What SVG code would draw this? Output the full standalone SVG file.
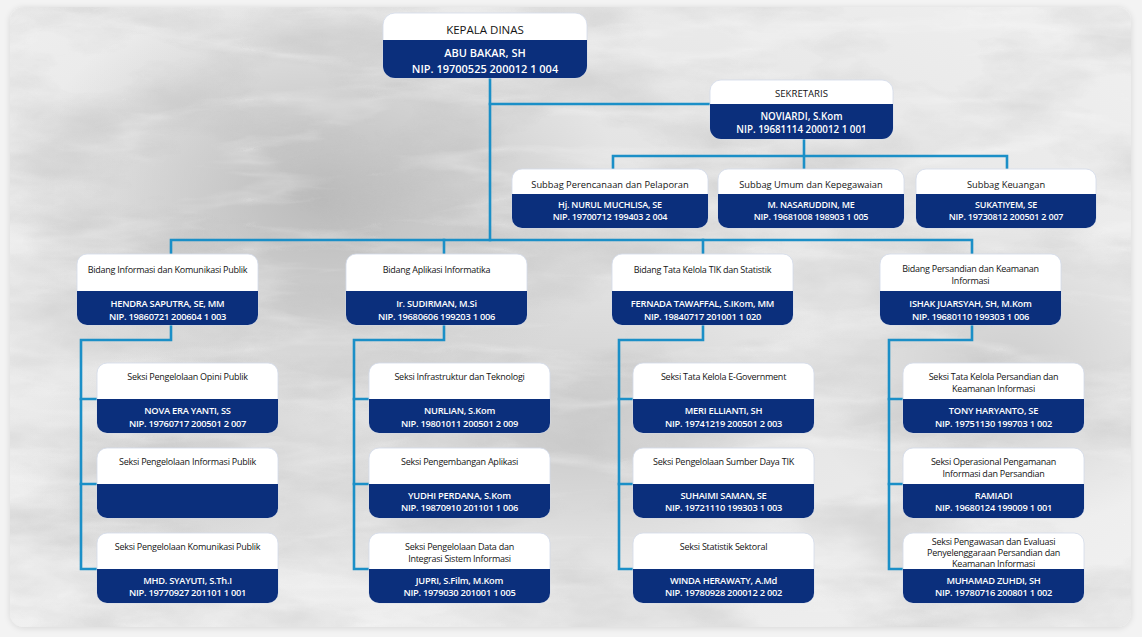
<svg xmlns="http://www.w3.org/2000/svg" xmlns:xlink="http://www.w3.org/1999/xlink" width="1142" height="637" viewBox="0 0 1142 637">
  <style>
    .hd { font-family: "Open Sans", "Liberation Sans", sans-serif; font-size: 9px; letter-spacing: -0.25px; fill: #141414; text-anchor: middle; dominant-baseline: central; }
    .nm { font-family: "Open Sans", "Liberation Sans", sans-serif; font-size: 9.3px; letter-spacing: -0.25px; font-weight: 600; fill: #ffffff; text-anchor: middle; dominant-baseline: central; }
    .hd-l { font-size: 11.5px; letter-spacing: 0; }
    .nm-l { font-size: 11px; letter-spacing: 0; }
    .hd-m { font-size: 9.6px; letter-spacing: 0; }
    .nm-m { font-size: 9.8px; letter-spacing: 0; }
    .hd-s { font-size: 9.3px; letter-spacing: 0; }
    .nm-s { font-size: 9px; letter-spacing: -0.2px; }
    .wire { fill: none; stroke: #1b8fc7; stroke-width: 2.6; stroke-linecap: square; stroke-linejoin: miter; }
    .face { fill: #ffffff; stroke: #d3dbea; stroke-width: 0.8; }
    .band { fill: #0b2f7c; }
  </style>
  <defs>
    <radialGradient id="cardBase" cx="0.45" cy="0.45" r="0.75">
      <stop offset="0" stop-color="#dedede"/>
      <stop offset="1" stop-color="#f1f1f1"/>
    </radialGradient>
    <radialGradient id="smudgeA" cx="0.5" cy="0.5" r="0.5">
      <stop offset="0" stop-color="#aaaaaa" stop-opacity="0.7"/>
      <stop offset="1" stop-color="#aaaaaa" stop-opacity="0"/>
    </radialGradient>
    <radialGradient id="smudgeB" cx="0.5" cy="0.5" r="0.5">
      <stop offset="0" stop-color="#b8b8b8" stop-opacity="0.55"/>
      <stop offset="1" stop-color="#b8b8b8" stop-opacity="0"/>
    </radialGradient>
    <filter id="grunge" x="0" y="0" width="100%" height="100%">
      <feTurbulence type="fractalNoise" baseFrequency="0.006 0.014" numOctaves="5" seed="7" result="n"/>
      <feColorMatrix in="n" type="matrix" values="0 0 0 0 0.5  0 0 0 0 0.5  0 0 0 0 0.5  2.8 0 0 0 -1.2"/>
    </filter>
    <filter id="veins" x="0" y="0" width="100%" height="100%">
      <feTurbulence type="turbulence" baseFrequency="0.004 0.02" numOctaves="4" seed="3" result="t"/>
      <feColorMatrix in="t" type="matrix" values="0 0 0 0 1  0 0 0 0 1  0 0 0 0 1  -3 0 0 0 0.9"/>
    </filter>
    <filter id="shadow" x="-5%" y="-5%" width="110%" height="110%">
      <feDropShadow dx="0" dy="1" stdDeviation="3" flood-color="#000" flood-opacity="0.12"/>
    </filter>
    <clipPath id="cardClip">
      <rect x="10" y="7" width="1121" height="620" rx="14"/>
    </clipPath>

    <!-- reusable card shapes: white heading area with a navy band below -->
    <g id="card-bidang">
      <rect class="face" width="181" height="71" rx="10"/>
      <path class="band" d="M0,37 h181 v24 a10,10 0 0 1 -10,10 h-161 a10,10 0 0 1 -10,-10 z"/>
    </g>
    <g id="card-seksi">
      <rect class="face" width="181" height="70" rx="10"/>
      <path class="band" d="M0,36 h181 v24 a10,10 0 0 1 -10,10 h-161 a10,10 0 0 1 -10,-10 z"/>
    </g>
  </defs>

  <!-- backdrop and textured panel -->
  <rect width="1142" height="637" fill="#f3f3f3"/>
  <rect x="10" y="7" width="1121" height="620" rx="14" fill="url(#cardBase)" filter="url(#shadow)"/>
  <g clip-path="url(#cardClip)">
    <ellipse cx="320" cy="200" rx="300" ry="220" fill="url(#smudgeA)"/>
    <ellipse cx="1010" cy="370" rx="210" ry="160" fill="url(#smudgeB)"/>
    <ellipse cx="580" cy="440" rx="240" ry="150" fill="url(#smudgeB)"/>
    <ellipse cx="200" cy="470" rx="180" ry="130" fill="url(#smudgeB)"/>
    <rect x="10" y="7" width="1121" height="620" filter="url(#grunge)" opacity="0.4"/>
    <rect x="10" y="7" width="1121" height="620" filter="url(#veins)" opacity="0.3"/>
  </g>

  <!-- connectors -->
  <g id="connectors">
    <path class="wire" d="M490,78 V240"/>
    <path class="wire" d="M490,104 H710"/>
    <path class="wire" d="M804,139 V169"/>
    <path class="wire" d="M613,169 V156 H1007 V169"/>
    <path class="wire" d="M171,254 V240 H972 V254"/>
    <path class="wire" d="M444,240 V254"/>
    <path class="wire" d="M703,240 V254"/>
    <path class="wire" d="M171,325 V340 H81 V569 H97"/>
    <path class="wire" d="M81,399 H97 M81,484 H97"/>
    <path class="wire" d="M444,325 V340 H354 V569 H369"/>
    <path class="wire" d="M354,399 H369 M354,484 H369"/>
    <path class="wire" d="M703,325 V340 H619 V569 H633"/>
    <path class="wire" d="M619,399 H633 M619,484 H633"/>
    <path class="wire" d="M972,325 V340 H889 V569 H903"/>
    <path class="wire" d="M889,399 H903 M889,484 H903"/>
  </g>

  <!-- head of office -->
  <g id="kepala-dinas">
    <rect class="face" x="383" y="13" width="204" height="65" rx="12"/>
    <path class="band" d="M383,40 h204 v26 a12,12 0 0 1 -12,12 h-180 a12,12 0 0 1 -12,-12 z"/>
    <text class="hd hd-l" x="485" y="29">KEPALA DINAS</text>
    <text class="nm nm-l" x="485" y="52">ABU BAKAR, SH</text>
    <text class="nm nm-l" x="485" y="68.5">NIP. 19700525 200012 1 004</text>
  </g>

  <!-- secretary -->
  <g id="sekretaris">
    <rect class="face" x="710" y="80" width="183" height="59" rx="11"/>
    <path class="band" d="M710,104 h183 v24 a11,11 0 0 1 -11,11 h-161 a11,11 0 0 1 -11,-11 z"/>
    <text class="hd hd-m" x="801.5" y="93.5">SEKRETARIS</text>
    <text class="nm nm-m" x="801.5" y="116">NOVIARDI, S.Kom</text>
    <text class="nm nm-m" x="801.5" y="129">NIP. 19681114 200012 1 001</text>
  </g>

  <!-- sub-sections under the secretary -->
  <g id="subbag-perencanaan">
    <rect class="face" x="512" y="169" width="196" height="59" rx="10"/>
    <path class="band" d="M512,194 h196 v24 a10,10 0 0 1 -10,10 h-176 a10,10 0 0 1 -10,-10 z"/>
    <text class="hd hd-s" x="610" y="184">Subbag Perencanaan dan Pelaporan</text>
    <text class="nm nm-s" x="610" y="204.5">Hj. NURUL MUCHLISA, SE</text>
    <text class="nm nm-s" x="610" y="216.5">NIP. 19700712 199403 2 004</text>
  </g>
  <g id="subbag-umum">
    <rect class="face" x="718" y="169" width="186" height="59" rx="10"/>
    <path class="band" d="M718,194 h186 v24 a10,10 0 0 1 -10,10 h-166 a10,10 0 0 1 -10,-10 z"/>
    <text class="hd hd-s" x="811" y="184">Subbag Umum dan Kepegawaian</text>
    <text class="nm nm-s" x="811" y="204.5">M. NASARUDDIN, ME</text>
    <text class="nm nm-s" x="811" y="216.5">NIP. 19681008 198903 1 005</text>
  </g>
  <g id="subbag-keuangan">
    <rect class="face" x="916" y="169" width="180" height="59" rx="10"/>
    <path class="band" d="M916,194 h180 v24 a10,10 0 0 1 -10,10 h-160 a10,10 0 0 1 -10,-10 z"/>
    <text class="hd hd-s" x="1006" y="184">Subbag Keuangan</text>
    <text class="nm nm-s" x="1006" y="204.5">SUKATIYEM, SE</text>
    <text class="nm nm-s" x="1006" y="216.5">NIP. 19730812 200501 2 007</text>
  </g>

  <!-- divisions -->
  <g id="bidang-ikp">
    <use xlink:href="#card-bidang" href="#card-bidang" x="77" y="254"/>
    <text class="hd" x="167.5" y="269">Bidang Informasi dan Komunikasi Publik</text>
    <text class="nm" x="167.5" y="303">HENDRA SAPUTRA, SE, MM</text>
    <text class="nm" x="167.5" y="316">NIP. 19860721 200604 1 003</text>
  </g>
  <g id="bidang-aptika">
    <use xlink:href="#card-bidang" href="#card-bidang" x="346" y="254"/>
    <text class="hd" x="436.5" y="269">Bidang Aplikasi Informatika</text>
    <text class="nm" x="436.5" y="303">Ir. SUDIRMAN, M.Si</text>
    <text class="nm" x="436.5" y="316">NIP. 19680606 199203 1 006</text>
  </g>
  <g id="bidang-tik">
    <use xlink:href="#card-bidang" href="#card-bidang" x="612" y="254"/>
    <text class="hd" x="702.5" y="269">Bidang Tata Kelola TIK dan Statistik</text>
    <text class="nm" x="702.5" y="303">FERNADA TAWAFFAL, S.IKom, MM</text>
    <text class="nm" x="702.5" y="316">NIP. 19840717 201001 1 020</text>
  </g>
  <g id="bidang-persandian">
    <use xlink:href="#card-bidang" href="#card-bidang" x="880" y="254"/>
    <text class="hd" x="970.5" y="268.5">Bidang Persandian dan Keamanan</text>
    <text class="hd" x="970.5" y="280.5">Informasi</text>
    <text class="nm" x="970.5" y="303">ISHAK JUARSYAH, SH, M.Kom</text>
    <text class="nm" x="970.5" y="316">NIP. 19680110 199303 1 006</text>
  </g>

  <!-- sections: column 1 -->
  <g id="seksi-opini">
    <use xlink:href="#card-seksi" href="#card-seksi" x="97" y="363"/>
    <text class="hd" x="187.5" y="376.5">Seksi Pengelolaan Opini Publik</text>
    <text class="nm" x="187.5" y="410.5">NOVA ERA YANTI, SS</text>
    <text class="nm" x="187.5" y="423">NIP. 19760717 200501 2 007</text>
  </g>
  <g id="seksi-informasi-publik">
    <use xlink:href="#card-seksi" href="#card-seksi" x="97" y="448"/>
    <text class="hd" x="187.5" y="461">Seksi Pengelolaan Informasi Publik</text>
  </g>
  <g id="seksi-komunikasi">
    <use xlink:href="#card-seksi" href="#card-seksi" x="97" y="533"/>
    <text class="hd" x="187.5" y="546">Seksi Pengelolaan Komunikasi Publik</text>
    <text class="nm" x="187.5" y="580">MHD. SYAYUTI, S.Th.I</text>
    <text class="nm" x="187.5" y="592.5">NIP. 19770927 201101 1 001</text>
  </g>

  <!-- sections: column 2 -->
  <g id="seksi-infrastruktur">
    <use xlink:href="#card-seksi" href="#card-seksi" x="369" y="363"/>
    <text class="hd" x="459.5" y="376.5">Seksi Infrastruktur dan Teknologi</text>
    <text class="nm" x="459.5" y="410.5">NURLIAN, S.Kom</text>
    <text class="nm" x="459.5" y="423">NIP. 19801011 200501 2 009</text>
  </g>
  <g id="seksi-aplikasi">
    <use xlink:href="#card-seksi" href="#card-seksi" x="369" y="448"/>
    <text class="hd" x="459.5" y="461">Seksi Pengembangan Aplikasi</text>
    <text class="nm" x="459.5" y="495">YUDHI PERDANA, S.Kom</text>
    <text class="nm" x="459.5" y="507.5">NIP. 19870910 201101 1 006</text>
  </g>
  <g id="seksi-data">
    <use xlink:href="#card-seksi" href="#card-seksi" x="369" y="533"/>
    <text class="hd" x="459.5" y="546.5">Seksi Pengelolaan Data dan</text>
    <text class="hd" x="459.5" y="558">Integrasi Sistem Informasi</text>
    <text class="nm" x="459.5" y="580">JUPRI, S.Film, M.Kom</text>
    <text class="nm" x="459.5" y="592.5">NIP. 1979030 201001 1 005</text>
  </g>

  <!-- sections: column 3 -->
  <g id="seksi-egov">
    <use xlink:href="#card-seksi" href="#card-seksi" x="633" y="363"/>
    <text class="hd" x="723.5" y="376.5">Seksi Tata Kelola E-Government</text>
    <text class="nm" x="723.5" y="410.5">MERI ELLIANTI, SH</text>
    <text class="nm" x="723.5" y="423">NIP. 19741219 200501 2 003</text>
  </g>
  <g id="seksi-sdtik">
    <use xlink:href="#card-seksi" href="#card-seksi" x="633" y="448"/>
    <text class="hd" x="723.5" y="461">Seksi Pengelolaan Sumber Daya TIK</text>
    <text class="nm" x="723.5" y="495">SUHAIMI SAMAN, SE</text>
    <text class="nm" x="723.5" y="507.5">NIP. 19721110 199303 1 003</text>
  </g>
  <g id="seksi-statistik">
    <use xlink:href="#card-seksi" href="#card-seksi" x="633" y="533"/>
    <text class="hd" x="723.5" y="546">Seksi Statistik Sektoral</text>
    <text class="nm" x="723.5" y="580">WINDA HERAWATY, A.Md</text>
    <text class="nm" x="723.5" y="592.5">NIP. 19780928 200012 2 002</text>
  </g>

  <!-- sections: column 4 -->
  <g id="seksi-tata-kelola-persandian">
    <use xlink:href="#card-seksi" href="#card-seksi" x="903" y="363"/>
    <text class="hd" x="993.5" y="376">Seksi Tata Kelola Persandian dan</text>
    <text class="hd" x="993.5" y="388">Keamanan Informasi</text>
    <text class="nm" x="993.5" y="410.5">TONY HARYANTO, SE</text>
    <text class="nm" x="993.5" y="423">NIP. 19751130 199703 1 002</text>
  </g>
  <g id="seksi-operasional">
    <use xlink:href="#card-seksi" href="#card-seksi" x="903" y="448"/>
    <text class="hd" x="993.5" y="461.5">Seksi Operasional Pengamanan</text>
    <text class="hd" x="993.5" y="473.5">Informasi dan Persandian</text>
    <text class="nm" x="993.5" y="495">RAMIADI</text>
    <text class="nm" x="993.5" y="507.5">NIP. 19680124 199009 1 001</text>
  </g>
  <g id="seksi-pengawasan">
    <use xlink:href="#card-seksi" href="#card-seksi" x="903" y="533"/>
    <text class="hd" x="993.5" y="541">Seksi Pengawasan dan Evaluasi</text>
    <text class="hd" x="993.5" y="552">Penyelenggaraan Persandian dan</text>
    <text class="hd" x="993.5" y="563">Keamanan Informasi</text>
    <text class="nm" x="993.5" y="580">MUHAMAD ZUHDI, SH</text>
    <text class="nm" x="993.5" y="592.5">NIP. 19780716 200801 1 002</text>
  </g>
</svg>
